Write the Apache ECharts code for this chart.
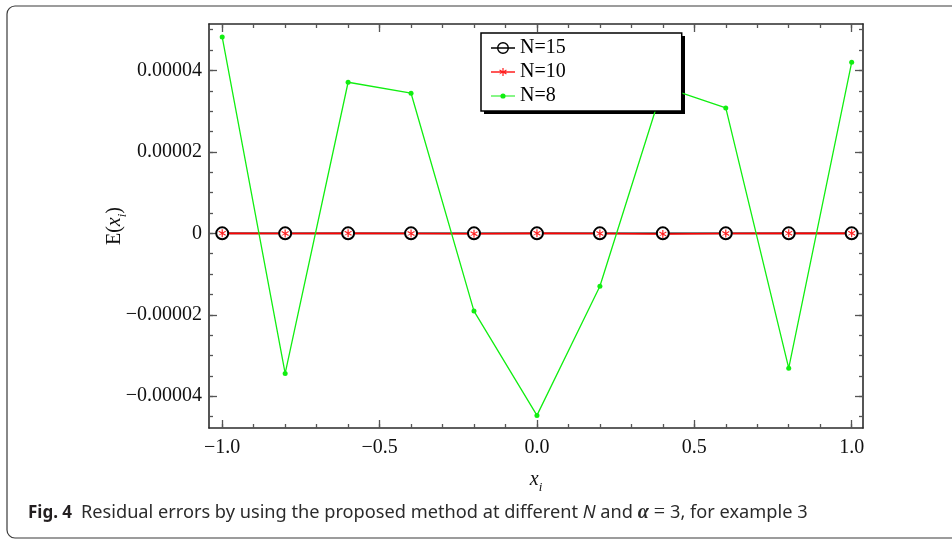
<!DOCTYPE html>
<html>
<head>
<meta charset="utf-8">
<script src="https://cdn.jsdelivr.net/npm/echarts@6/dist/echarts.min.js"></script>
<style>
html,body{margin:0;padding:0;background:#fff;}
#chart{width:952px;height:540px;}
</style>
</head>
<body>
<div id="chart"></div>
<script>
// collocation points
var xPoints = [-1.0, -0.8, -0.6, -0.4, -0.2, 0.0, 0.2, 0.4, 0.6, 0.8, 1.0];
// residual errors
var errN15 = [0, 0, 0, 0, 0, 0, 0, 0, 0, 0, 0];
var errN10 = [0, -0.05e-6, 0, -0.05e-6, -0.1e-6, 0, -0.05e-6, -0.15e-6, -0.05e-6, 0, 0];
var errN8 = [4.82e-5, -3.44e-5, 3.71e-5, 3.44e-5, -1.91e-5, -4.47e-5, -1.30e-5, 3.60e-5, 3.08e-5, -3.31e-5, 4.20e-5];
var seriesNames = ['N=15', 'N=10', 'N=8'];

// axis ticks
var xMajorTicks = [-1.0, -0.5, 0, 0.5, 1.0];
var xMinorTicks = [-1.0, -0.9, -0.8, -0.7, -0.6, -0.5, -0.4, -0.3, -0.2, -0.1, 0, 0.1, 0.2, 0.3, 0.4, 0.5, 0.6, 0.7, 0.8, 0.9, 1.0];
var yMajorTicks = [-0.00004, -0.00002, 0, 0.00002, 0.00004];
var yMinorTicks = [-0.000045, -0.00004, -0.000035, -0.00003, -0.000025, -0.00002, -0.000015, -0.00001, -0.000005, 0,
                   0.000005, 0.00001, 0.000015, 0.00002, 0.000025, 0.00003, 0.000035, 0.00004, 0.000045, 0.00005];

var X_MIN = -1.042, X_MAX = 1.036;
var Y_MIN = -0.0000478, Y_MAX = 0.0000514;

var SERIF = 'Liberation Serif';

// marker shapes
var starPath = 'path://M11.4,3 H12.6 V11 H11.4 Z M8.236,5.52 L8.836,4.48 L15.764,8.48 L15.164,9.52 Z M8.236,9.52 L8.836,8.48 L15.164,4.48 L15.764,5.52 Z';
var legendIcons = [
    'path://M0,6.3 H24 V7.7 H0 Z M18,7 A6,6 0 1 1 6,7 A6,6 0 1 1 18,7 Z M16.6,7 A4.6,4.6 0 1 0 7.4,7 A4.6,4.6 0 1 0 16.6,7 Z',
    'path://M0,6.3 H24 V7.7 H0 Z M11.4,3 H12.6 V11 H11.4 Z M8.236,5.52 L8.836,4.48 L15.764,8.48 L15.164,9.52 Z M8.236,9.52 L8.836,8.48 L15.164,4.48 L15.764,5.52 Z',
    'path://M0,6.4 H24 V7.6 H0 Z M14.6,7 A2.6,2.6 0 1 1 9.4,7 A2.6,2.6 0 1 1 14.6,7 Z'
];

function fmtMinus(s) {
    return s.replace('-', '\u2212')
}

function pairs(ys) {
    return xPoints.map(function (x, i) { return [x, ys[i]] })
}

function xAxisOf(position, ticks, len, main) {
    return {
        type: 'value', position: position, min: X_MIN, max: X_MAX,
        splitLine: { show: false },
        axisLine: { show: main, onZero: false, lineStyle: { color: '#2b2b2b', width: 1.6 } },
        axisTick: { show: true, inside: true, length: len, customValues: ticks, lineStyle: { color: '#555', width: 1.3 } },
        axisLabel: {
            show: main && position === 'bottom', customValues: xMajorTicks, margin: 10,
            fontFamily: SERIF, fontSize: 20, color: '#111',
            formatter: function (v) { return fmtMinus(v.toFixed(1)) }
        }
    }
}

function yAxisOf(position, ticks, len, main) {
    return {
        type: 'value', position: position, min: Y_MIN, max: Y_MAX,
        splitLine: { show: false },
        axisLine: { show: main, onZero: false, lineStyle: { color: '#2b2b2b', width: 1.6 } },
        axisTick: { show: true, inside: true, length: len, customValues: ticks, lineStyle: { color: '#555', width: 1.3 } },
        axisLabel: {
            show: main && position === 'left', customValues: yMajorTicks, margin: 7,
            fontFamily: SERIF, fontSize: 20, color: '#111',
            formatter: function (v) { return v === 0 ? '0' : fmtMinus(v.toFixed(5)) }
        }
    }
}

var xAxes = [
    xAxisOf('bottom', xMajorTicks, 8, true),
    xAxisOf('bottom', xMinorTicks, 4, false),
    xAxisOf('top', xMajorTicks, 8, true),
    xAxisOf('top', xMinorTicks, 4, false)
];
xAxes[0].name = '{it|x}{sub|i}';
xAxes[0].nameLocation = 'middle';
xAxes[0].nameGap = 38;
xAxes[0].nameMoveOverlap = false;
xAxes[0].nameTextStyle = {
    rich: {
        it: { fontFamily: SERIF, fontStyle: 'italic', fontSize: 20, color: '#111', lineHeight: 28 },
        sub: { fontFamily: SERIF, fontStyle: 'italic', fontSize: 13, color: '#111', verticalAlign: 'bottom', lineHeight: 13 }
    }
};

var yAxes = [
    yAxisOf('left', yMajorTicks, 8, true),
    yAxisOf('left', yMinorTicks, 4, false),
    yAxisOf('right', yMajorTicks, 8, true),
    yAxisOf('right', yMinorTicks, 4, false)
];
yAxes[0].name = '{n|E(}{it|x}{sub|i}{n|)}';
yAxes[0].nameLocation = 'middle';
yAxes[0].nameGap = 80;
yAxes[0].nameMoveOverlap = false;
yAxes[0].nameRotate = 90;
yAxes[0].nameTextStyle = {
    rich: {
        n: { fontFamily: SERIF, fontSize: 20, color: '#111', lineHeight: 28 },
        it: { fontFamily: SERIF, fontStyle: 'italic', fontSize: 20, color: '#111', lineHeight: 28 },
        sub: { fontFamily: SERIF, fontStyle: 'italic', fontSize: 13, color: '#111', verticalAlign: 'bottom', lineHeight: 13 }
    }
};

var myChart = echarts.init(document.getElementById('chart'));
myChart.setOption({
    animation: false,
    backgroundColor: '#fff',
    title: {
        left: 23, top: 498,
        text: '{b|Fig. 4}  {t|Residual errors by using the proposed method at different }{i|N}{t| and }{g|\u03b1}{m| = }{t|3, for example 3}',
        textStyle: {
            fontWeight: 'normal', fontSize: 16,
            rich: {
                b: { fontFamily: 'Noto Sans', fontWeight: 'bold', fontSize: 17, color: '#231f20' },
                t: { fontFamily: 'Noto Sans', fontWeight: 'normal', fontSize: 18.2, color: '#2b2b2b' },
                i: { fontFamily: 'Noto Sans', fontWeight: 'normal', fontStyle: 'italic', fontSize: 18.2, color: '#2b2b2b' },
                g: { fontFamily: SERIF, fontStyle: 'italic', fontWeight: 'bold', fontSize: 20, color: '#2b2b2b' },
                m: { fontFamily: SERIF, fontWeight: 'normal', fontSize: 20, color: '#2b2b2b' }
            }
        }
    },
    graphic: [{
        type: 'rect', silent: true, z: -10,
        shape: { x: 7, y: 6, width: 960, height: 532, r: 8 },
        style: { fill: 'none', stroke: '#3a3a3a', lineWidth: 1.2 }
    }, {
        // drop shadow behind the legend box
        type: 'rect', silent: true, z: 3,
        shape: { x: 484, y: 36, width: 201, height: 78 },
        style: { fill: '#000' }
    }],
    grid: { left: 209, top: 24, right: 89, bottom: 112, outerBoundsMode: 'none' },
    legend: {
        orient: 'vertical', left: 481, top: 33, z: 4,
        data: seriesNames.map(function (n, i) { return { name: n, icon: legendIcons[i] } }),
        itemWidth: 24, itemHeight: 14, itemGap: 4,
        padding: [5, 116, 5, 10],
        backgroundColor: '#fff', borderColor: '#000', borderWidth: 1.5,
        itemStyle: { borderWidth: 0 },
        textStyle: { fontFamily: SERIF, fontSize: 20, color: '#000', lineHeight: 20 },
        selectedMode: false
    },
    xAxis: xAxes,
    yAxis: yAxes,
    series: [
        {
            name: seriesNames[0], type: 'line', data: pairs(errN15),
            symbol: 'emptyCircle', symbolSize: 12,
            lineStyle: { color: '#000', width: 1.6 },
            itemStyle: { color: '#000', borderWidth: 1.6 },
            emphasis: { disabled: true }
        },
        {
            name: seriesNames[1], type: 'line', data: pairs(errN10),
            symbol: starPath, symbolSize: 8, symbolKeepAspect: true,
            lineStyle: { color: '#ff0000', width: 1.6 },
            itemStyle: { color: '#ff2020', borderWidth: 0 },
            emphasis: { disabled: true }
        },
        {
            name: seriesNames[2], type: 'line', data: pairs(errN8),
            symbol: 'circle', symbolSize: 5,
            lineStyle: { color: '#11ee11', width: 1.3 },
            itemStyle: { color: '#11ee11', borderWidth: 0 },
            emphasis: { disabled: true }
        }
    ]
});
</script>
</body>
</html>
